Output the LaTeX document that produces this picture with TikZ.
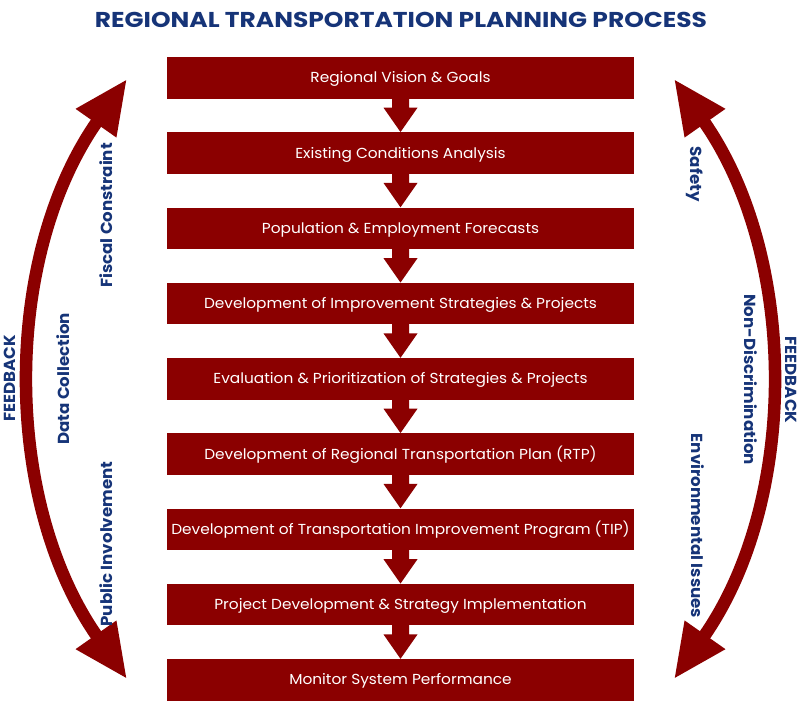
\documentclass[tikz,border=0pt]{standalone}
\usepackage{fontspec}
\setmainfont{Poppins}
\newfontfamily\boxfont[FakeStretch=1.06]{Poppins}
\newfontfamily\titlefont[FakeStretch=1.16]{Poppins}
\newfontfamily\labelfont[FakeStretch=1.04]{Poppins}
\usetikzlibrary{arrows.meta,calc}
\definecolor{boxred}{RGB}{139,0,0}
\definecolor{navy}{RGB}{22,52,120}
\begin{document}
\begin{tikzpicture}[x=1pt,y=-1pt,
  box/.style={fill=boxred,text=white,minimum width=467pt,minimum height=41.5pt,inner sep=0pt,
    text height=10.2pt,text depth=0pt,font=\boxfont\fontsize{14.5}{16}\selectfont},
  sidelabel/.style={text=navy,font=\labelfont\bfseries\fontsize{16}{18}\selectfont,inner sep=0pt,
    text height=11.2pt,text depth=0pt},
  curvearrow/.style={draw=boxred,line width=12.5pt,{Triangle[length=54pt,width=46pt]}-{Triangle[length=54pt,width=46pt]}}
]
\useasboundingbox (0,0) rectangle (800,701);
\node[text=navy,font=\titlefont\bfseries\fontsize{21.5}{24}\selectfont,inner sep=0pt,text height=15pt,text depth=0pt] (title) at (401,20) {REGIONAL TRANSPORTATION PLANNING PROCESS};
\node[box] (b1) at (400.5,77.75) {Regional Vision \& Goals};
\node[box] (b2) at (400.5,153) {Existing Conditions Analysis};
\node[box] (b3) at (400.5,228.25) {Population \& Employment Forecasts};
\node[box] (b4) at (400.5,303.5) {Development of Improvement Strategies \& Projects};
\node[box] (b5) at (400.5,378.75) {Evaluation \& Prioritization of Strategies \& Projects};
\node[box] (b6) at (400.5,454) {Development of Regional Transportation Plan (RTP)};
\node[box] (b7) at (400.5,529.25) {Development of Transportation Improvement Program (TIP)};
\node[box] (b8) at (400.5,604.5) {Project Development \& Strategy Implementation};
\node[box] (b9) at (400.5,679.75) {Monitor System Performance};
\foreach \i [evaluate=\i as \j using int(\i+1)] in {1,...,8} {
  \fill[boxred] ($(b\i.south)+(-8.5,-0.5)$) -- ($(b\i.south)+(8.5,-0.5)$) -- ($(b\i.south)+(8.5,9)$) -- ($(b\i.south)+(17,9)$) -- (b\j.north) -- ($(b\i.south)+(-17,9)$) -- ($(b\i.south)+(-8.5,9)$) -- cycle;
}
\coordinate (LT) at (127,79);
\coordinate (LB) at (127,679);
\coordinate (RT) at (674,79);
\coordinate (RB) at (674,679);
\draw[curvearrow] (LB) .. controls (2,501) and (2,257) .. (LT);
\draw[curvearrow] (RB) .. controls (799,501) and (799,257) .. (RT);
\node[sidelabel,rotate=90] (fbl) at (10,378.5) {FEEDBACK};
\node[sidelabel,rotate=90] (dc) at (64,379) {Data Collection};
\node[sidelabel,rotate=90] (fc) at (107,215.5) {Fiscal Constraint};
\node[sidelabel,rotate=90] (pi) at (107,544) {Public Involvement};
\node[sidelabel,rotate=-90] (sf) at (696,174) {Safety};
\node[sidelabel,rotate=-90] (nd) at (750.5,379.5) {Non-Discrimination};
\node[sidelabel,rotate=-90] (fbr) at (791,380) {FEEDBACK};
\node[sidelabel,rotate=-90] (ei) at (697,526) {Environmental Issues};
\end{tikzpicture}
\end{document}
